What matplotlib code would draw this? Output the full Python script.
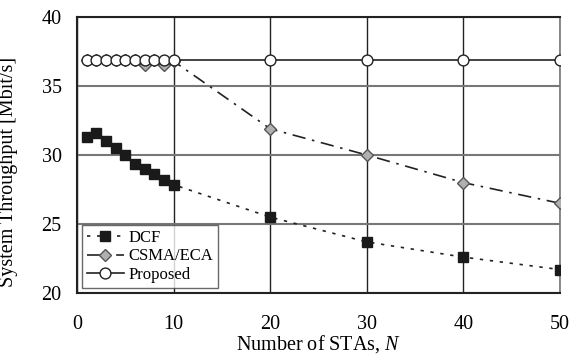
import matplotlib
matplotlib.use("Agg")
import matplotlib.pyplot as plt

plt.rcParams['font.family'] = ['Liberation Serif', 'DejaVu Serif']
plt.rcParams['mathtext.fontset'] = 'custom'
plt.rcParams['mathtext.rm'] = 'Liberation Serif'
plt.rcParams['mathtext.it'] = 'Liberation Serif:italic'

x = [1, 2, 3, 4, 5, 6, 7, 8, 9, 10, 20, 30, 40, 50]
dcf = [31.3, 31.6, 31.05, 30.5, 30.0, 29.35, 28.95, 28.6, 28.2, 27.85, 25.5, 23.7, 22.6, 21.7]
csma = [36.9, 36.9, 36.9, 36.9, 36.9, 36.9, 36.5, 36.9, 36.5, 36.8, 31.9, 30.0, 28.0, 26.5]
proposed = [36.9] * 14

xticks = [0, 10, 20, 30, 40, 50]
yticks = [20, 25, 30, 35, 40]

fig = plt.figure(figsize=(5.72, 3.57), dpi=100)
ax = fig.add_axes([77/572, 1 - 293/357, (560-77)/572, (293-17)/357])

ax.plot(x, dcf, linestyle=(0, (2, 4)), color='#222222', lw=1.2, marker='s',
        markersize=7.5, markerfacecolor='#1a1a1a', markeredgecolor='#1a1a1a', label='DCF', zorder=3)
ax.plot(x, csma, linestyle=(0, (8, 4, 1.5, 4)), color='#222222', lw=1.2, marker='D',
        markersize=6.3, markerfacecolor='#b0b0b0', markeredgecolor='#555555', label='CSMA/ECA', zorder=4)
ax.plot(x, proposed, linestyle='-', color='#222222', lw=1.2, marker='o',
        markersize=7.8, markerfacecolor='white', markeredgecolor='#222222', label='Proposed', zorder=5)

ax.set_xlim(0, 50)
ax.set_ylim(20, 40)
ax.set_xticks(xticks)
ax.set_yticks(yticks)
ax.tick_params(axis='both', length=0, labelsize=14.5)
ax.tick_params(axis='x', pad=16)
ax.tick_params(axis='y', pad=11)
ax.xaxis.grid(True, color='#222222', lw=1.0)
ax.yaxis.grid(True, color='#777777', lw=1.5)
ax.set_axisbelow(True)
for s in ['left', 'bottom', 'top']:
    ax.spines[s].set_color('#222222')
    ax.spines[s].set_linewidth(1.5)
ax.spines['right'].set_color('#777777')
ax.spines['right'].set_linewidth(1.2)

ax.set_xlabel('Number of STAs, $\\mathit{N}$', fontsize=14.5, labelpad=-1)
ax.set_ylabel('System Throughput [Mbit/s]', fontsize=14.5)
ax.yaxis.set_label_coords(-0.123, 0.44)

leg = ax.legend(loc='lower left', fontsize=12, frameon=True, fancybox=False,
                edgecolor='#444444', handlelength=2.2, handletextpad=0.3,
                borderpad=0.3, labelspacing=0.15, borderaxespad=0.3)
leg.get_frame().set_linewidth(1.0)

fig.savefig('out.png', dpi=100)
